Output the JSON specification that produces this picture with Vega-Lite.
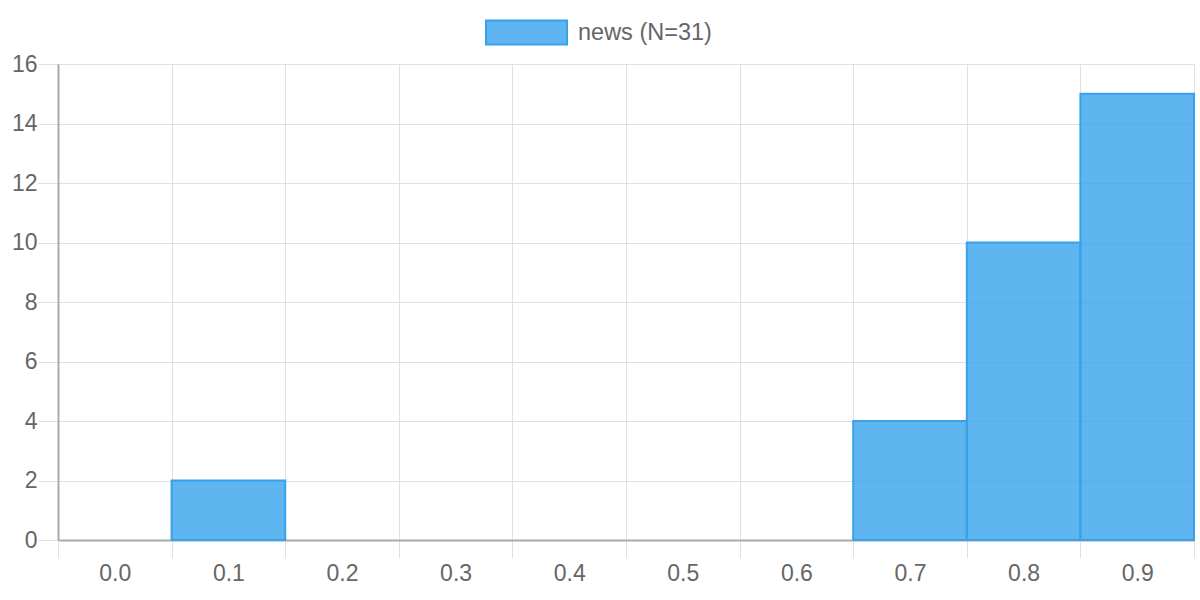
{
  "$schema": "https://vega.github.io/schema/vega-lite/v6.json",
  "width": 1136,
  "height": 476,
  "autosize": {"type": "none"},
  "padding": {"left": 58, "top": 64, "right": 6, "bottom": 60},
  "background": "white",
  "config": {
    "font": "Liberation Sans",
    "view": {"stroke": null},
    "axis": {
      "labelFont": "Liberation Sans",
      "labelFontSize": 23,
      "labelColor": "#666666",
      "gridColor": "#e0e0e0",
      "gridWidth": 1,
      "tickColor": "#e0e0e0",
      "tickWidth": 1,
      "domainColor": "#aaaaaa",
      "domainWidth": 2,
      "title": null
    }
  },
  "data": {
    "values": [
      {"bin": "0.0", "start": 0.0, "end": 0.1, "count": 0},
      {"bin": "0.1", "start": 0.1, "end": 0.2, "count": 2},
      {"bin": "0.2", "start": 0.2, "end": 0.3, "count": 0},
      {"bin": "0.3", "start": 0.3, "end": 0.4, "count": 0},
      {"bin": "0.4", "start": 0.4, "end": 0.5, "count": 0},
      {"bin": "0.5", "start": 0.5, "end": 0.6, "count": 0},
      {"bin": "0.6", "start": 0.6, "end": 0.7, "count": 0},
      {"bin": "0.7", "start": 0.7, "end": 0.8, "count": 4},
      {"bin": "0.8", "start": 0.8, "end": 0.9, "count": 10},
      {"bin": "0.9", "start": 0.9, "end": 1.0, "count": 15}
    ]
  },
  "transform": [
    {"filter": "datum.count > 0"},
    {"calculate": "'news (N=31)'", "as": "series"}
  ],
  "mark": {
    "type": "rect",
    "fillOpacity": 0.8,
    "stroke": "#36a2eb",
    "strokeWidth": 2
  },
  "encoding": {
    "x": {
      "field": "start",
      "type": "quantitative",
      "scale": {"domain": [0, 1], "nice": false, "zero": false},
      "axis": {
        "values": [0, 0.1, 0.2, 0.3, 0.4, 0.5, 0.6, 0.7, 0.8, 0.9, 1.0],
        "labelExpr": "datum.value > 0.95 ? '' : format(datum.value, '.1f')",
        "labelOffset": 56.8,
        "labelAlign": "center",
        "tickSize": 18,
        "labelPadding": 4,
        "grid": true,
        "labelFlush": false,
        "labelOverlap": false
      }
    },
    "x2": {"field": "end"},
    "y": {
      "field": "count",
      "type": "quantitative",
      "scale": {"domain": [0, 16], "nice": false},
      "axis": {
        "values": [0, 2, 4, 6, 8, 10, 12, 14, 16],
        "tickSize": 20,
        "labelPadding": 1,
        "grid": true
      }
    },
    "y2": {"datum": 0},
    "fill": {
      "field": "series",
      "type": "nominal",
      "scale": {"range": ["#36a2eb"]},
      "legend": {
        "title": null,
        "orient": "none",
        "legendX": 427,
        "legendY": -73,
        "padding": 0,
        "symbolType": "M-1,-0.296H1V0.296H-1Z",
        "symbolSize": 6561,
        "symbolStrokeColor": "#36a2eb",
        "symbolStrokeWidth": 2,
        "labelFont": "Liberation Sans",
        "labelFontSize": 23.5,
        "labelColor": "#666666",
        "labelOffset": 10,
        "encode": {
          "symbols": {"update": {"fillOpacity": {"value": 0.8}, "stroke": {"value": "#36a2eb"}, "strokeWidth": {"value": 2}}}
        }
      }
    }
  }
}
